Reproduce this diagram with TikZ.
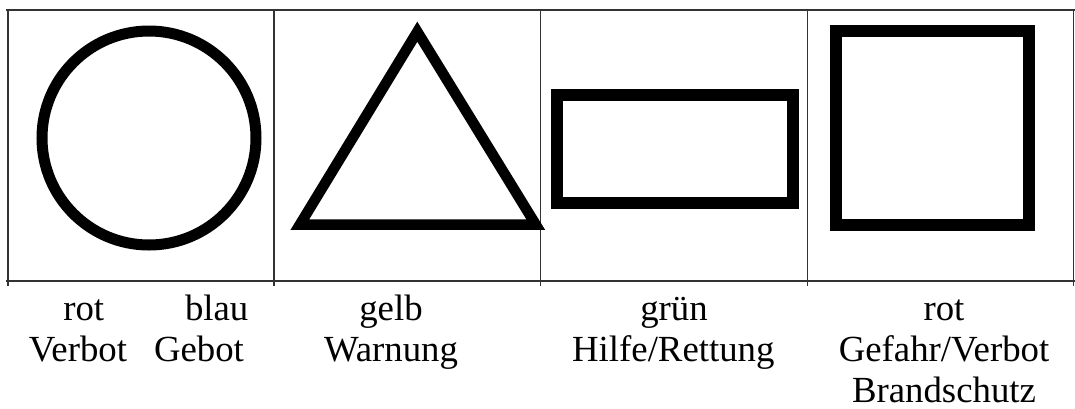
\documentclass[tikz,border=0pt]{standalone}
\usepackage{fontspec}
\setmainfont{Liberation Serif}
\begin{document}
\begin{tikzpicture}[x=1pt,y=-1pt,
  grid/.style={draw=black!80,line width=1.1pt},
  sign/.style={draw=black,line join=miter},
  lbl/.style={anchor=base,inner sep=0pt,font=\fontsize{36.8}{41.7}\selectfont}]
\useasboundingbox (0,0) rectangle (1075,408);
% grid
\draw[grid] (6,10) -- (1075,10);
\draw[grid] (6,281) -- (1075,281);
\foreach \x in {8,274,540.7,807.3,1073.5}{
  \draw[grid] (\x,10) -- (\x,286);
}
% signs
\draw[sign,line width=11pt] (149,138) circle[radius=107];
\draw[sign,line width=10.5pt] (417.3,31.7) -- (299.8,224.7) -- (535.8,224.7) -- cycle;
\draw[sign,line width=12pt] (557,95.2) rectangle (793,203.3);
\draw[sign,line width=12pt] (836.2,31.2) rectangle (1029.2,225.2);
% labels
\node[lbl] (rot1) at (83.7,320) {rot};
\node[lbl] (blau) at (216.7,320) {blau};
\node[lbl] (verbot1) at (78,361.7) {Verbot};
\node[lbl] (gebot) at (199,361.7) {Gebot};
\node[lbl] (gelb) at (391,320) {gelb};
\node[lbl] (warnung) at (391,361.7) {Warnung};
\node[lbl] (gruen) at (674,320) {grün};
\node[lbl] (hilfe) at (673.3,361.7) {Hilfe/Rettung};
\node[lbl] (rot2) at (944,320) {rot};
\node[lbl] (gefahr) at (944,361.7) {Gefahr/Verbot};
\node[lbl,text depth=0pt] (brand) at (944,402) {Brandschutz};
\end{tikzpicture}
\end{document}
